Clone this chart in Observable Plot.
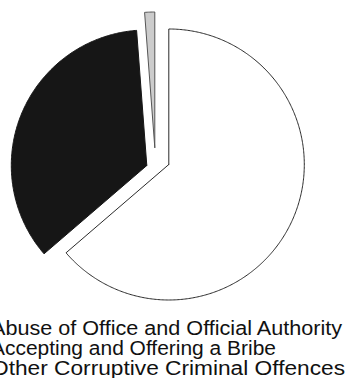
<!DOCTYPE html>
<html><head><meta charset="utf-8">
<script src="https://cdn.jsdelivr.net/npm/d3@7"></script>
<script src="https://cdn.jsdelivr.net/npm/@observablehq/plot@0.6"></script>
<style>
body{margin:0;background:#fff;overflow:hidden}
#chart svg{display:block}
#legend{font-family:"Liberation Sans",Arial,sans-serif;font-size:20px;line-height:20px;color:#111;margin-top:1px;white-space:nowrap}
#legend div{height:20px}
#legend span{display:inline-block;transform-origin:0 0}
</style>
</head><body><div id="chart"></div><div id="legend"></div>
<script>
const categories = ["Abuse of Office and Official Authority", "Accepting and Offering a Bribe", "Other Corruptive Criminal Offences"];
const shares = [63.7, 35.1, 1.2];

// styling
const fills = ["#ffffff", "#161616", "#cccccc"];
const strokes = ["#2a2a2a", "#161616", "#555555"];
const R = 135.5, cx = 168.3, cy = 164;
const explode = [[0, 0], [-22, 1], [-14, -17]];
const W = 346, H = 317;
const legendLeft = -9, legendWidths = [351, 285, 354];

const arcs = d3.pie().sort(null).startAngle(0).endAngle(2 * Math.PI)(shares);
const pts = [];
arcs.forEach((a, i) => {
  const ox = explode[i][0] / R, oy = explode[i][1] / R;
  const n = Math.max(2, Math.ceil((a.endAngle - a.startAngle) / 0.01));
  pts.push({k: i, x: ox, y: oy});
  for (let j = 0; j <= n; j++) {
    const t = a.startAngle + (a.endAngle - a.startAngle) * j / n;
    pts.push({k: i, x: ox + Math.sin(t), y: oy - Math.cos(t)});
  }
  pts.push({k: i, x: ox, y: oy});
});

const chart = Plot.plot({
  width: W, height: H,
  margin: 0,
  x: {domain: [-cx / R, (W - cx) / R], range: [0, W], axis: null},
  y: {domain: [-cy / R, (H - cy) / R], range: [0, H], axis: null},
  color: {type: "identity"},
  marks: [
    Plot.line(pts, {x: "x", y: "y", z: "k", fill: d => fills[d.k], stroke: d => strokes[d.k], strokeWidth: 1, curve: "linear"})
  ]
});
document.getElementById("chart").appendChild(chart);
const lg = document.getElementById("legend");
categories.forEach((c, i) => {
  const d = document.createElement("div");
  const s = document.createElement("span");
  s.textContent = c;
  d.appendChild(s);
  lg.appendChild(d);
  const w = s.getBoundingClientRect().width;
  s.style.transform = `translateX(${legendLeft}px) scaleX(${legendWidths[i] / w})`;
});
</script>
</body></html>
